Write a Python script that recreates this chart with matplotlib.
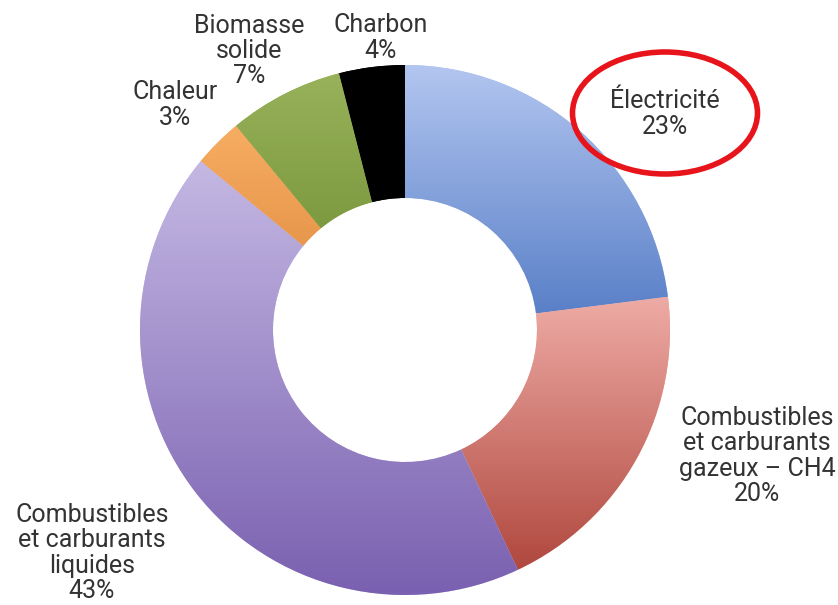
import numpy as np
import matplotlib.pyplot as plt
from matplotlib.colors import LinearSegmentedColormap
from matplotlib.patches import Ellipse

labels = [
    "Électricité",
    "Combustibles\net carburants\ngazeux – CH4",
    "Combustibles\net carburants\nliquides",
    "Chaleur",
    "Biomasse\nsolide",
    "Charbon",
]
shares = [23, 20, 43, 3, 7, 4]
light_colors = ["#b3c6f0", "#eeaba5", "#c4b8e3", "#f6ad62", "#97b25a", "#000000"]
dark_colors = ["#5a80c8", "#b0483e", "#7a60b0", "#e8974c", "#7e9a40", "#000000"]
# label anchor points (pixels from top-left)
label_pos = [(665, 114), (757, 456), (92, 553), (175, 105), (249, 51), (381, 38)]

plt.rcParams["font.family"] = ["Roboto", "DejaVu Sans"]

W, H = 838, 605
fig = plt.figure(figsize=(W / 100, H / 100), dpi=100)
ax = fig.add_axes([0, 0, 1, 1])

cx, cy, r_out, r_in = 405, H - 330, 265, 132
wedges, _ = ax.pie(
    shares,
    center=(cx, cy),
    radius=r_out,
    startangle=90,
    counterclock=False,
    colors=light_colors,
    wedgeprops=dict(width=r_out - r_in, linewidth=0),
)

# vertical gradient inside each wedge
grad = np.linspace(0, 1, 256).reshape(-1, 1)
for w, c0, c1 in zip(wedges, light_colors, dark_colors):
    bb = w.get_path().get_extents()
    cmap = LinearSegmentedColormap.from_list("g", [c1, c0])
    im = ax.imshow(
        grad,
        cmap=cmap,
        extent=[bb.x0, bb.x1, bb.y0, bb.y1],
        origin="lower",
        aspect="auto",
        interpolation="bilinear",
        zorder=2,
    )
    im.set_clip_path(w)

for lab, pct, (x, y) in zip(labels, shares, label_pos):
    ax.text(
        x, H - y, f"{lab}\n{pct}%",
        ha="center", va="center",
        fontsize=18, color="#333333", linespacing=1.06, zorder=3,
    )

ax.add_patch(Ellipse((665, H - 113), 185, 122, fill=False,
                     edgecolor="#e8141b", linewidth=4, zorder=4))

ax.set_xlim(0, W)
ax.set_ylim(0, H)
ax.set_aspect("equal")
ax.axis("off")
fig.savefig("out.png", dpi=100, facecolor="white")
